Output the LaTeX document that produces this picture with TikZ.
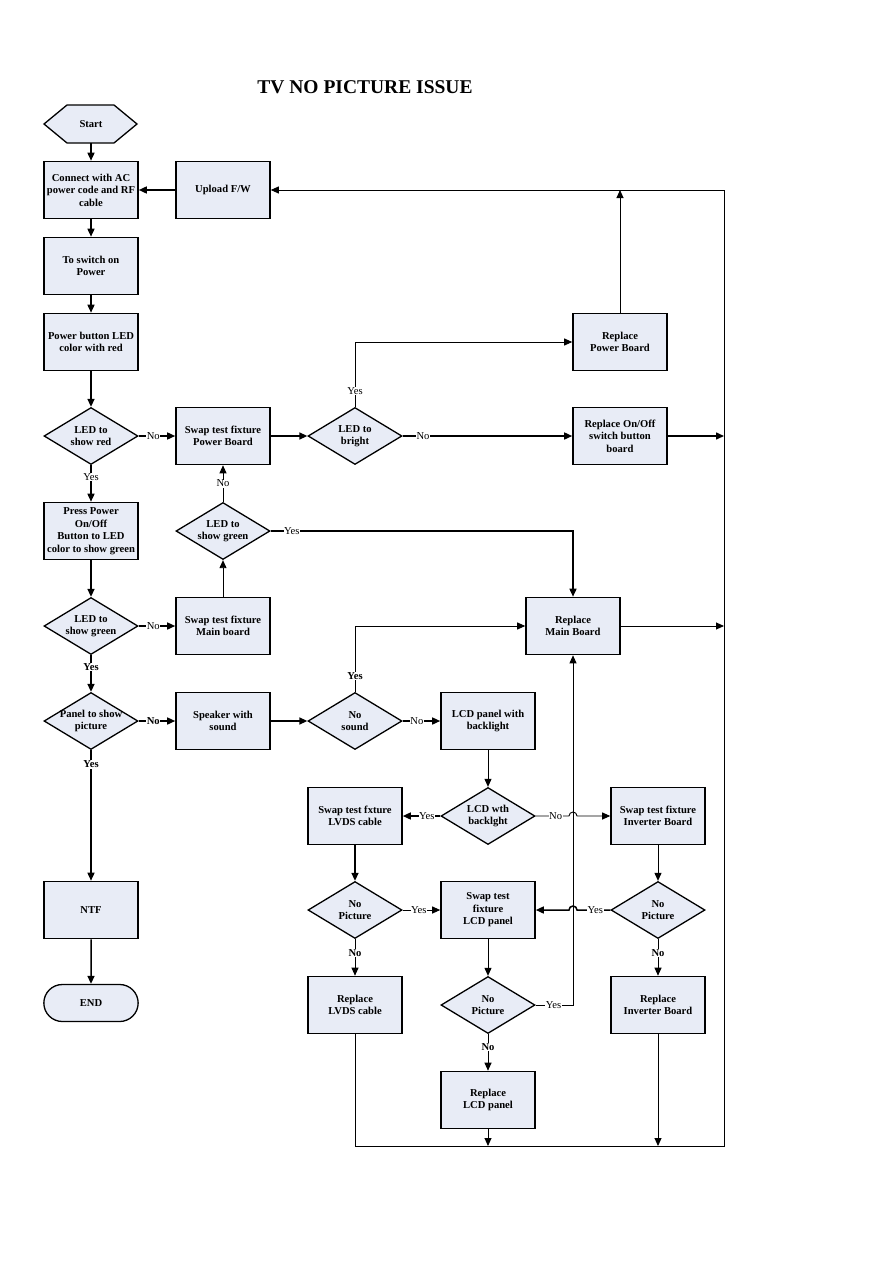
\documentclass[tikz,border=0pt]{standalone}
\usepackage{fontspec}
\setmainfont{Liberation Serif}
\usetikzlibrary{shapes.geometric,shapes.misc,arrows.meta}

\definecolor{boxfill}{RGB}{232,236,246}

\begin{document}
\begin{tikzpicture}
[
	x=1pt,y=-1pt,
	>={Triangle[length=8pt,width=7pt]},
	font=\fontsize{10.6}{12.5}\selectfont\bfseries,
	stepbox/.style={rectangle,draw,line width=1.6pt,fill=boxfill,minimum width=94pt,minimum height=57pt,inner sep=1pt,align=center},
	ask/.style={diamond,draw,line width=1.3pt,fill=boxfill,minimum width=94pt,minimum height=57pt,inner sep=0pt,label={[align=center]center:#1}},
	lbl/.style={fill=white,inner sep=0.5pt,font=\fontsize{10.6}{12}\selectfont\mdseries},
	lblb/.style={fill=white,inner sep=0.5pt},
	flow/.style={line width=1.5pt},
	wire/.style={line width=0.9pt}
]

	\useasboundingbox (0,0) rectangle (893,1263);

	% title
	\node (title) at (365,87) {\fontsize{19.5}{24}\selectfont TV NO PICTURE ISSUE};

	% left column
	\filldraw[fill=boxfill,line width=1.3pt] (44,124) -- (67,105) -- (114,105) -- (137,124) -- (114,143) -- (67,143) -- cycle;
	\node[minimum width=94pt,minimum height=38pt,inner sep=0pt] (start) at (91,124) {Start};
	\node[stepbox] (conn) at (91,190) {Connect with AC\\power code and RF\\cable};
	\node[stepbox] (swon) at (91,266) {To switch on\\Power};
	\node[stepbox] (pled) at (91,342) {Power button LED\\color with red};
	\node[ask={LED to\\show red}] (dred) at (91,436) {};
	\node[stepbox] (press) at (91,531) {Press Power\\On/Off\\Button to LED\\color to show green};
	\node[ask={LED to\\show green}] (dgreen) at (91,626) {};
	\node[ask={Panel to show\\picture}] (dpanel) at (91,721) {};
	\node[stepbox] (ntf) at (91,910) {NTF};
	\node[rounded rectangle,draw,line width=1.3pt,fill=boxfill,minimum width=101pt,minimum height=37pt] (endn) at (91,1003) {END};

	% second column
	\node[stepbox] (upl) at (223,190) {Upload F/W};
	\node[stepbox] (swpow) at (223,436) {Swap test fixture\\Power Board};
	\node[ask={LED to\\show green}] (dgreen2) at (223,531) {};
	\node[stepbox] (swmain) at (223,626) {Swap test fixture\\Main board};
	\node[stepbox] (spk) at (223,721) {Speaker with\\sound};

	% third column
	\node[ask={LED to\\bright}] (dbright) at (355,436) {};
	\node[ask={No\\sound}] (dsound) at (355,721) {};
	\node[stepbox] (swlvds) at (355,816) {Swap test fxture\\LVDS cable};
	\node[ask={No\\Picture}] (dpic3) at (355,910) {};
	\node[stepbox] (replvds) at (355,1005) {Replace\\LVDS cable};

	% fourth column
	\node[stepbox] (lcdbl) at (488,721) {LCD panel with\\backlight};
	\node[ask={LCD wth\\backlght}] (dlcd) at (488,816) {};
	\node[stepbox] (swlcd) at (488,910) {Swap test\\fixture\\LCD panel};
	\node[ask={No\\Picture}] (dpic4) at (488,1005) {};
	\node[stepbox] (replcd) at (488,1100) {Replace\\LCD panel};

	% right columns
	\node[stepbox] (repmain) at (573,626) {Replace\\Main Board};
	\node[stepbox] (reppow) at (620,342) {Replace\\Power Board};
	\node[stepbox] (repoo) at (620,436) {Replace On/Off\\switch button\\board};
	\node[stepbox] (swinv) at (658,816) {Swap test fixture\\Inverter Board};
	\node[ask={No\\Picture}] (dpic7) at (658,910) {};
	\node[stepbox] (repinv) at (658,1005) {Replace\\Inverter Board};

	% return bus
	\coordinate (bt) at (724,190);
	\coordinate (bb) at (724,1146);
	\coordinate (bl) at (355,1146);

	% main line
	\draw[flow,->] (start) -- (conn);
	\draw[flow,->] (conn) -- (swon);
	\draw[flow,->] (swon) -- (pled);
	\draw[flow,->] (pled) -- (dred);
	\draw[flow,->] (dred) -- node[lbl,pos=0.32] {Yes} (press);
	\draw[flow,->] (press) -- (dgreen);
	\draw[flow,->] (dgreen) -- node[lblb,pos=0.33] {Yes} (dpanel);
	\draw[flow,->] (dpanel) -- node[lblb,pos=0.11] {Yes} (ntf);
	\draw[flow,->] (ntf) -- (endn);

	\draw[flow,->] (upl) -- (conn);
	\draw[wire,->] (bt) -- (upl);

	% power board branch
	\draw[flow,->] (dred) -- node[lbl,pos=0.4] {No} (swpow);
	\draw[flow,->] (swpow) -- (dbright);
	\draw[wire,->] (dbright.north) |- node[lbl,pos=0.12] {Yes} (reppow.west);
	\draw[flow,->] (dbright) -- node[lbl,pos=0.12] {No} (repoo);
	\draw[wire,->] (reppow.north) -- (reppow.north |- bt);
	\draw[flow,->] (repoo) -- (repoo -| bt);

	% main board branch
	\draw[flow,->] (dgreen) -- node[lbl,pos=0.4] {No} (swmain);
	\draw[wire,->] (swmain) -- (dgreen2);
	\draw[wire,->] (dgreen2) -- node[lbl,pos=0.5] {No} (swpow);
	\draw[flow,->] (dgreen2.east) -| node[lbl,pos=0.035] {Yes} (repmain.north);
	\draw[wire,->] (repmain) -- (repmain -| bt);

	% picture branch
	\draw[flow,->] (dpanel) -- node[lblb,pos=0.4] {No} (spk);
	\draw[flow,->] (spk) -- (dsound);
	\draw[wire,->] (dsound.north) |- node[lblb,pos=0.12] {Yes} (repmain.west);
	\draw[flow,->] (dsound) -- node[lbl,pos=0.38] {No} (lcdbl);
	\draw[wire,->] (lcdbl) -- (dlcd);
	\draw[flow,->] (dlcd) -- node[lbl,pos=0.36] {Yes} (swlvds);
	\draw[wire,->] (dlcd.east) -- node[lbl,pos=0.6] {No} (569,816) arc[start angle=180,end angle=0,radius=4pt] -- (swinv.west);

	\draw[flow,->] (swlvds) -- (dpic3);
	\draw[wire,->] (dpic3) -- node[lbl,pos=0.43] {Yes} (swlcd);
	\draw[wire,->] (dpic3) -- node[lblb,pos=0.38] {No} (replvds);

	\draw[wire,->] (swinv) -- (dpic7);
	\draw[flow,->] (dpic7.west) -- node[lbl,pos=0.45] {Yes} (577,910) arc[start angle=0,end angle=180,radius=4pt] -- (swlcd.east);
	\draw[wire,->] (dpic7) -- node[lblb,pos=0.38] {No} (repinv);

	\draw[wire,->] (swlcd) -- (dpic4);
	\draw[wire,->] (dpic4.east) -| node[lbl,pos=0.24] {Yes} (repmain.south);
	\draw[wire,->] (dpic4) -- node[lblb,pos=0.35] {No} (replcd);

	% back to the top
	\draw[wire] (replvds.south) -- (bl) -- (bb) -- (bt);
	\draw[wire,->] (replcd.south) -- (replcd.south |- bb);
	\draw[wire,->] (repinv.south) -- (repinv.south |- bb);

\end{tikzpicture}
\end{document}
